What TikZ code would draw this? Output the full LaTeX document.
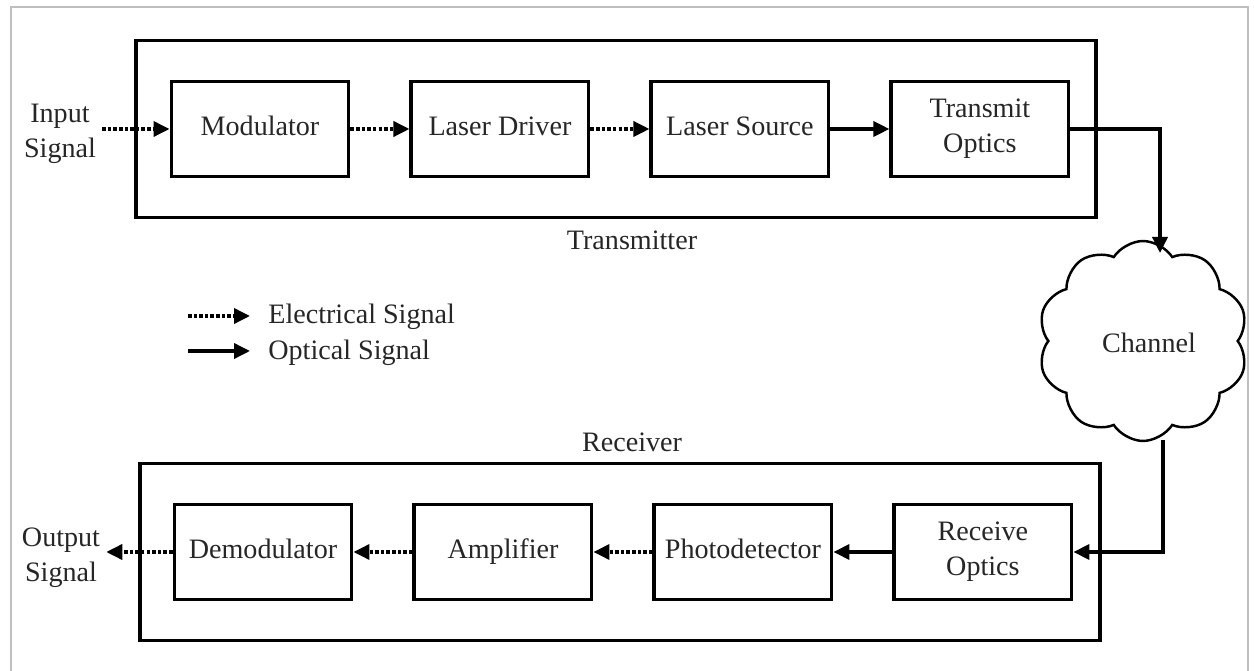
\documentclass[tikz,border=0pt]{standalone}
\usepackage{fontspec}
\setmainfont{Liberation Serif}
\usepackage{xcolor}
\usepackage{tikz}
\usetikzlibrary{positioning}
\usetikzlibrary{arrows.meta}
\usetikzlibrary{shapes.symbols}
\tikzset{optical/.style = {-{Triangle[length=0.32cm,width=0.3cm]}, line width=2pt},
         electrical/.style = {optical, dash pattern=on 2pt off 1.2pt}}

\begin{document}
\begin{tikzpicture}[x=0.02cm,y=-0.02cm,node distance=1.18cm,
                    main node/.style={rectangle,draw,line width=2pt,minimum width=3.55cm,minimum height=1.9cm,align=center,text=black!85,font=\fontsize{16}{20}\selectfont,execute at begin node=\vphantom{Ap}},
                    unit/.style={rectangle,draw,line width=2pt,minimum width=19.2cm,minimum height=3.55cm},
                    lbl/.style={align=center,text=black!85,font=\fontsize{16}{20}\selectfont}]
    \useasboundingbox (0,0) rectangle (1254,671);
    \draw[gray!50, line width=1pt] (11,671) |- (1248,7) -- (1248,671);

    % transmitter
    \node[unit] (tx) at (616,129) {};
    \node[lbl] (txname) at (632,240) {Transmitter};
    \node[main node] (mod) at (260,129) {Modulator};
    \node[main node] (drv) [right=of mod] {Laser Driver};
    \node[main node] (src) [right=of drv] {Laser Source};
    \node[main node] (txopt) [right=of src] {Transmit\\Optics};
    \node[lbl] (in) at (60,134) {Input\\Signal};

    \draw[electrical] (in.east |- mod) -- (mod);
    \draw[electrical] (mod) -- (drv);
    \draw[electrical] (drv) -- (src);
    \draw[optical] (src) -- (txopt);

    % channel
    \node[cloud,draw,line width=1.4pt,cloud puffs=10,cloud puff arc=115,aspect=1,minimum width=4.2cm,minimum height=4cm] (chan) at (1143,341) {};
    \node[lbl] (chname) at (1149,343) {Channel};
    \coordinate (chin) at (1160,253);
    \coordinate (chout) at (1163,440);
    \draw[optical] (txopt.east) -| (chin);

    % legend
    \coordinate (e1) at (188,316);
    \coordinate (e2) at (250,316);
    \coordinate (o1) at (188,351);
    \coordinate (o2) at (250,351);
    \draw[electrical] (e1) -- (e2);
    \draw[optical] (o1) -- (o2);
    \node[lbl,anchor=west,inner sep=0pt] (etext) at (268,317) {Electrical Signal};
    \node[lbl,anchor=west,inner sep=0pt] (otext) at (268,353) {Optical Signal};

    % receiver
    \node[unit] (rx) at (620,552) {};
    \node[lbl] (rxname) at (632,442) {Receiver};
    \node[main node] (demod) at (263,552) {Demodulator};
    \node[main node] (amp) [right=of demod] {Amplifier};
    \node[main node] (pd) [right=of amp] {Photodetector};
    \node[main node] (rxopt) [right=of pd] {Receive\\Optics};
    \node[lbl] (out) at (61,558) {Output\\Signal};

    \draw[optical] (chout) |- (rxopt.east);
    \draw[optical] (rxopt) -- (pd);
    \draw[electrical] (pd) -- (amp);
    \draw[electrical] (amp) -- (demod);
    \draw[electrical] (demod) -- (out.east |- demod);
\end{tikzpicture}
\end{document}
